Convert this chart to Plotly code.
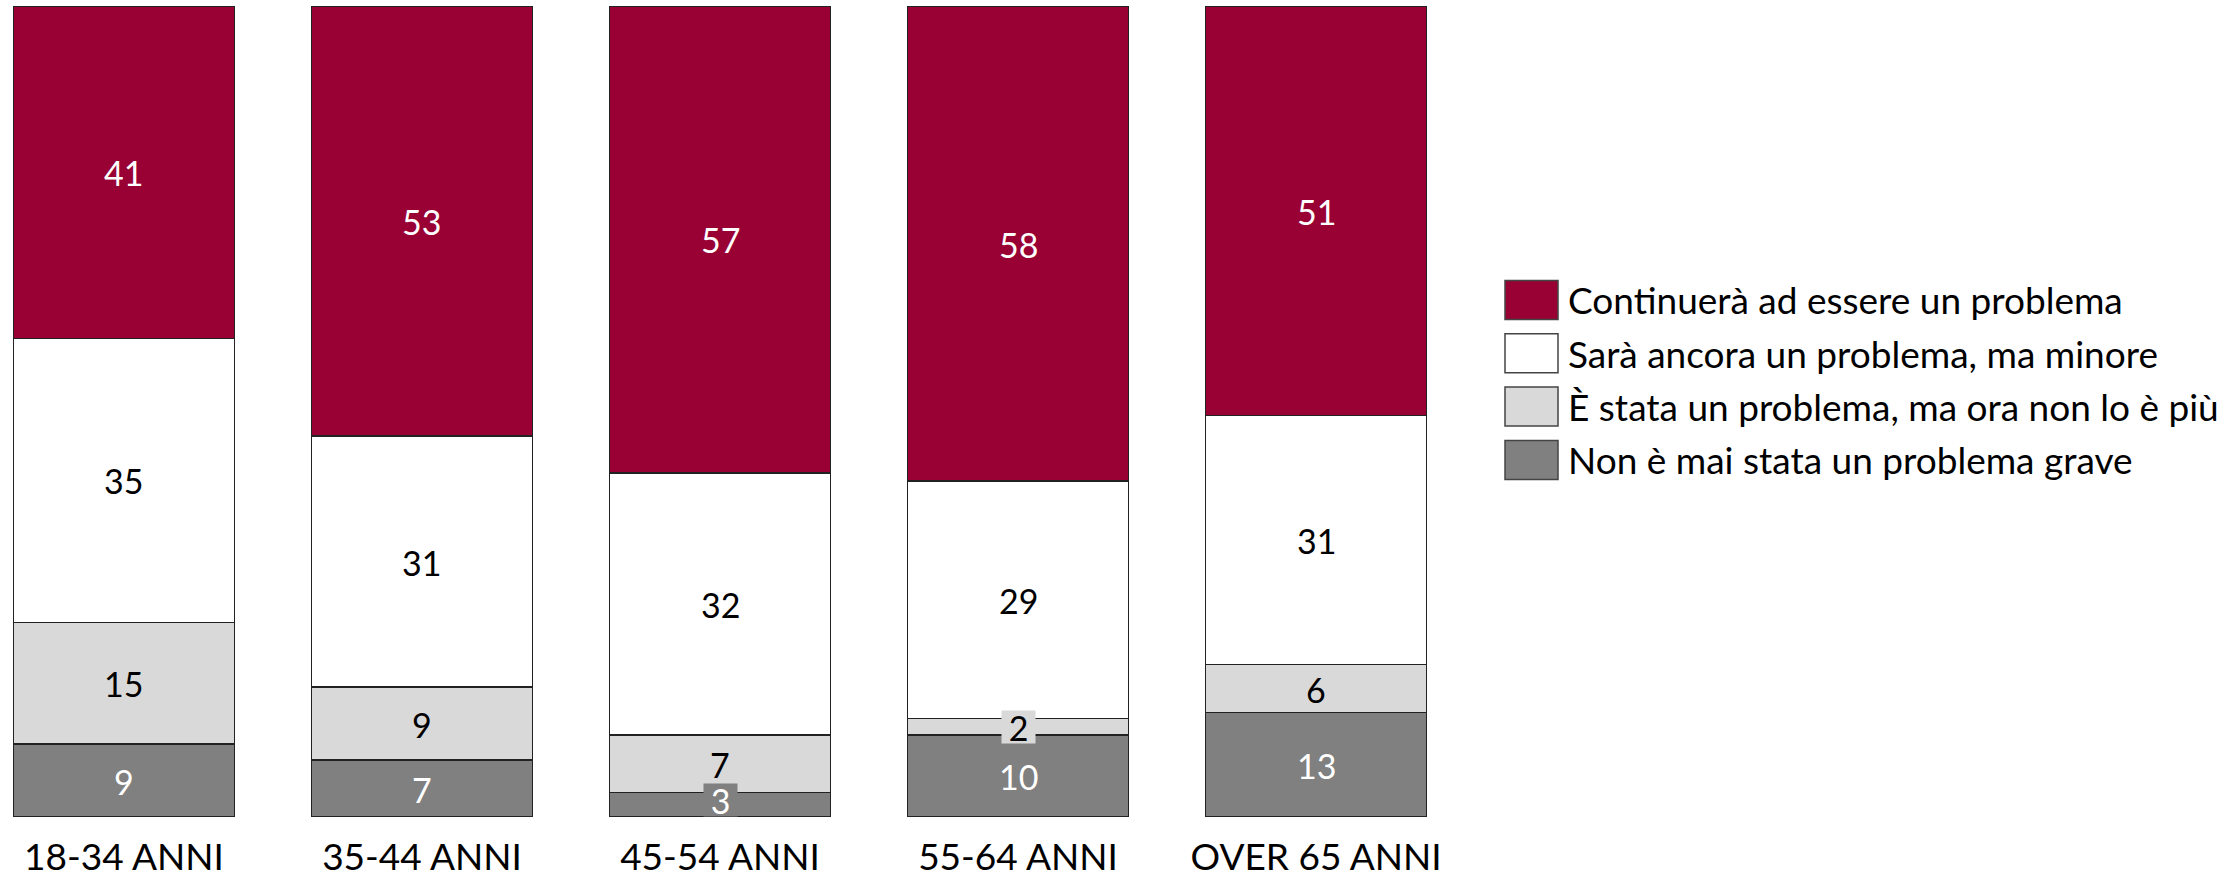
import plotly.graph_objects as go

categories = ["18-34 ANNI", "35-44 ANNI", "45-54 ANNI", "55-64 ANNI", "OVER 65 ANNI"]
continuera = [41, 53, 57, 58, 51]
sara = [35, 31, 32, 29, 31]
e_stata = [15, 9, 7, 2, 6]
non_mai = [9, 7, 3, 10, 13]

series_names = [
    "Non è mai stata un problema grave",
    "È stata un problema, ma ora non lo è più",
    "Sarà ancora un problema, ma minore",
    "Continuerà ad essere un problema",
]
series_values = [non_mai, e_stata, sara, continuera]
series_colors = ["#808080", "#d9d9d9", "#ffffff", "#990033"]
label_colors = ["#ffffff", "#000000", "#000000", "#ffffff"]

FONT = "Lato"
W, H = 2239, 873
ML, MR, MT, MB = 0, 0, 6, 56
PLOT_W = 1440
PLOT_H = H - MT - MB
LABEL_SIZE = 34
BOX_H = 32
BOX_W = 33

fig = go.Figure()
for name, vals, col in zip(series_names, series_values, series_colors):
    fig.add_trace(go.Bar(
        x=list(range(len(categories))), y=vals, name=name,
        marker=dict(color=col, line=dict(color="#222222", width=1.5)),
        showlegend=False, hoverinfo="skip",
    ))

# data labels (annotations, positioned via data scale)
totals = [sum(s[i] for s in series_values) for i in range(len(categories))]
for i in range(len(categories)):
    cum = 0
    for vals, col, lc in zip(series_values, series_colors, label_colors):
        v = vals[i]
        mid = (cum + v / 2) / totals[i] * 100
        mid_px = mid / 100 * PLOT_H
        seg_px = v / totals[i] * PLOT_H
        small = seg_px < BOX_H
        shift = max(0, BOX_H / 2 + 1 - mid_px)
        cum += v
        fig.add_annotation(
            x=i, y=mid, xref="x", yref="y", text=str(v), showarrow=False,
            font=dict(family=FONT, size=LABEL_SIZE, color=lc),
            bgcolor=col if small else "rgba(0,0,0,0)",
            width=BOX_W if small else None, height=BOX_H,
            borderpad=0, yshift=shift,
        )

# legend drawn manually (large swatches)
leg_x0, leg_sw_w, leg_sw_h = 1505, 53, 39
leg_y0, leg_dy = 300, 53.3
for k, (name, col) in enumerate(zip(series_names[::-1], series_colors[::-1])):
    cy = leg_y0 + k * leg_dy
    fig.add_shape(
        type="rect", xref="paper", yref="paper",
        x0=leg_x0 / W, x1=(leg_x0 + leg_sw_w) / W,
        y0=(H - MB - (cy - leg_sw_h / 2)) / PLOT_H,
        y1=(H - MB - (cy + leg_sw_h / 2)) / PLOT_H,
        fillcolor=col, line=dict(color="#444444", width=1.5),
    )
    fig.add_annotation(
        x=(leg_x0 + leg_sw_w + 8) / W, y=(H - MB - cy) / PLOT_H,
        xref="paper", yref="paper", xanchor="left", yanchor="middle",
        text=name, showarrow=False, font=dict(family=FONT, size=37, color="#000000"),
    )

fig.update_layout(
    width=W, height=H,
    margin=dict(l=ML, r=MR, t=MT, b=MB, pad=0, autoexpand=False),
    barmode="stack", barnorm="percent", bargap=0.258,
    plot_bgcolor="#ffffff", paper_bgcolor="#ffffff",
    font=dict(family=FONT, size=37, color="#000000"),
    xaxis=dict(
        domain=[0, PLOT_W / W], range=[-0.416, 4.416], automargin=False,
        tickmode="array", tickvals=list(range(len(categories))), ticktext=categories,
        showgrid=False, zeroline=False, showline=False, ticks="",
        ticklabelstandoff=15,
        tickfont=dict(family=FONT, size=37, color="#000000"),
    ),
    yaxis=dict(range=[0, 100], visible=False, showgrid=False, zeroline=False, automargin=False),
    showlegend=False,
)

fig.write_html(
    "out.html",
    config={"displayModeBar": False},
    post_script="document.body.style.margin='0';document.body.style.overflow='hidden';",
)
